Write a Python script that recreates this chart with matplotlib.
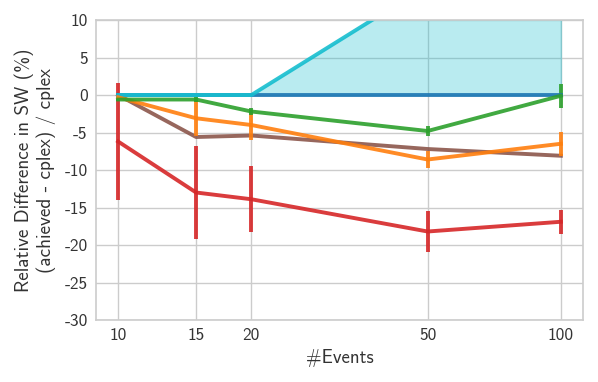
import matplotlib.pyplot as plt

plt.rcParams['font.family'] = ['cmss10', 'DejaVu Sans']
plt.rcParams['axes.unicode_minus'] = False
plt.rcParams['mathtext.fontset'] = 'cm'

events = [10, 15, 20, 50, 100]

# relative difference in social welfare (%) per method, with std as error
red_mean = [-6.2, -13.0, -13.9, -18.2, -16.9]
red_err = [7.8, 6.2, 4.4, 2.7, 1.6]
brown_mean = [0.0, -5.6, -5.4, -7.2, -8.1]
orange_mean = [-0.3, -3.1, -4.0, -8.6, -6.5]
orange_err = [0.3, 2.4, 2.0, 1.1, 1.6]
green_mean = [-0.6, -0.6, -2.2, -4.8, -0.1]
green_err = [0.2, 0.3, 0.5, 0.7, 1.6]
blue_mean = [0.0, 0.0, 0.0, 0.0, 0.0]
cyan_mean = [0.0, 0.0, 0.0, 14.6, 25.0]

fig = plt.figure(figsize=(5.98, 3.82), dpi=100)
ax = fig.add_axes([0.1605, 0.1623, 0.8145, 0.7853])

lw = 2.8
a = 0.9
ax.errorbar(events, red_mean, yerr=red_err, color='#d62728', lw=lw, elinewidth=lw, capsize=0, alpha=a)
ax.plot(events, brown_mean, color='#8c564b', lw=lw, alpha=a)
ax.errorbar(events, orange_mean, yerr=orange_err, color='#ff7f0e', lw=lw, elinewidth=lw, capsize=0, alpha=a)
ax.errorbar(events, green_mean, yerr=green_err, color='#2ca02c', lw=lw, elinewidth=lw, capsize=0, alpha=a)
ax.fill_between(events, 0, cyan_mean, color='#17becf', alpha=0.3)
ax.plot(events, blue_mean, color='#1f77b4', lw=lw, alpha=a)
ax.plot(events, cyan_mean, color='#17becf', lw=lw, alpha=a)

ax.set_xscale('log')
ax.set_xticks(events)
ax.set_xticklabels([str(e) for e in events])
ax.minorticks_off()
ax.set_ylim(-30, 10)
ax.set_yticks(range(-30, 11, 5))

ax.grid(True, color='#cccccc', lw=1)
ax.set_axisbelow(True)
for s in ax.spines.values():
    s.set_color('#cccccc')
    s.set_linewidth(1.2)
ax.tick_params(length=0, labelsize=12.5, colors='#333333', pad=6)

ax.set_xlabel('#Events', fontsize=13.5, color='#333333', labelpad=4)
ax.set_ylabel('Relative Difference in SW (%)\n(achieved - cplex) / cplex', fontsize=13.8,
              color='#333333', labelpad=6)

fig.savefig('out.png', dpi=100)
